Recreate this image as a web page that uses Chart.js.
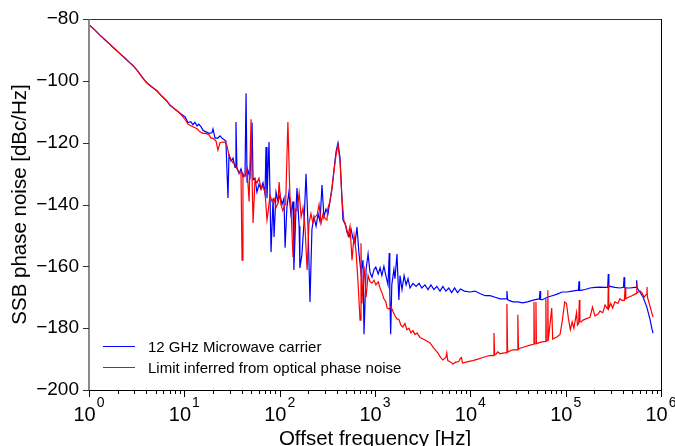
<!DOCTYPE html>
<html>
<head>
<meta charset="utf-8">
<script src="https://cdn.jsdelivr.net/npm/chart.js@4.4.1/dist/chart.umd.min.js"></script>
<style>
html, body { margin:0; padding:0; background:#fff; }
#wrap { width:675px; height:446px; }
</style>
</head>
<body>
<div id="wrap"><canvas id="c" width="675" height="446"></canvas></div>
<script>
// values
var blueFreq = [1.00,1.156,1.30,1.47,1.66,1.87,2.11,2.39,2.69,2.9,3.2,3.5,3.8,4.06,4.58,5.17,5.83,6.57,7.08,7.98,9.01,
	10.2,10.9,11.7,12.3,12.9,13.6,14.2,15.0,15.7,16.9,18.2,19.5,20.0,21.0,22.5,23.7,24.9,26.0,27.3,28.7,29.4,30.9,32.4,34.0,34.8,35.6,37.5,39.3,41.2,43.3,44.4,45.5,46.6,48.9,
	51.3,52.6,55.1,57.8,60.7,63.8,66.8,70.2,71.9,73.6,77.3,81.2,85.3,87.3,91.6,96.3,101,106,111,114,119,125,131,138,141,148,152,160,163,171,180,189,198,208,218,229,241,253,265,278,291,306,321,337,354,372,390,409,430,450,461,485,509,534,561,588,617,647,680,713,749,767,806,846,887,931,977,
	1020,1080,1130,1180,1240,1300,1370,1410,1430,1460,1500,1580,1620,1700,1780,1830,1920,2020,2120,2220,2330,2500,2700,2900,3100,3340,3600,3860,4150,4450,4810,5150,5530,5940,6370,6840,7340,7880,8660,9920,
	11200,12600,14300,16100,18200,20500,23200,23800,24200,24600,25400,27900,31500,35300,39800,44800,50600,53000,53800,54600,57000,64100,72200,81400,91800,
	103000,117000,130000,136000,138000,140000,145000,160000,180000,203000,229000,258000,276000,280000,284000,291000,328000,371000,404000,410000,416000,436000,472000,532000,547000,555000,563000,601000,650000,710000,765000,800000,825000];
var blueDb = [-81.8,-83.6,-85.2,-86.7,-88.2,-89.7,-91.2,-92.7,-94.2,-95.1,-96.6,-98.2,-99.7,-100.7,-102,-103.3,-105,-106.6,-107.9,-109.2,-110.5,
	-111.7,-113.5,-113.2,-114.2,-113.4,-114.6,-114,-114.9,-116,-116.5,-117,-116.8,-115.6,-118.5,-118.5,-117.8,-118.6,-119,-119.5,-137.9,-124,-126,-125,-128,-113.3,-128,-130,-128.5,-131,-130.5,-104,-133,-129,-131,
	-113.5,-132,-131.5,-136,-133.5,-135,-133,-136.5,-121.4,-138,-119.8,-155.4,-138,-150.5,-136,-139,-137,-140,-138,-154,-141,-136,-143,-139,-161.2,-142,-134.7,-147,-160.5,-156.3,-146,-130.1,-146,-171.5,-148,-144,-147,-143,-145.5,-133.7,-144,-141.5,-143,-139,-134.5,-128.5,-123,-120.1,-125,-138,-145,-146,-149,-150.5,-148,-151,-152.5,-147.3,-156,-162,-158,-182,-161,-156,-162,-163.5,-161,
	-160.2,-162.5,-160.5,-163,-160,-163,-166,-155.7,-168,-182,-166,-161,-164,-156,-170.9,-163,-167.5,-163,-166,-164,-167,-165.5,-166.5,-165.5,-167,-166,-167.5,-166,-167.5,-166.5,-168,-166.5,-168,-167,-168.5,-167,-168.5,-167.3,-168,-168.3,
	-168,-168.8,-169.5,-169.5,-170,-170.5,-170.5,-170.5,-168,-170.8,-171,-171.5,-171.5,-171.8,-171.5,-171,-170.6,-170.6,-168,-170.7,-170.8,-170,-169.5,-169,-168.3,
	-168.3,-168,-167.8,-167.8,-164.8,-167.8,-167.8,-167.5,-167,-166.8,-166.7,-166.8,-166.8,-162.5,-166.6,-166.5,-166.8,-167,-166.8,-163.5,-166.9,-167,-167,-166.8,-166.8,-164.5,-167,-168.3,-170,-173.2,-177,-180,-181.6];

var redFreq = [1.00,1.156,1.30,1.47,1.66,1.87,2.11,2.39,2.69,2.9,3.2,3.5,3.8,4.06,4.58,5.17,5.83,6.57,7.08,7.98,9.01,
	10.2,10.9,11.7,12.6,13.6,14.6,15.7,16.9,18.2,19.0,20.0,21.5,22.5,23.7,24.9,26.7,28.0,29.4,30.9,32.4,34.0,35.6,37.5,39.3,40.3,41.2,43.3,45.5,47.8,
	50.1,51.3,52.6,55.1,57.8,60.7,63.8,66.8,70.2,73.6,75.3,79.2,83.1,87.3,91.6,96.3,98.6,103,108,114,116,122,128,131,138,145,152,160,168,176,185,194,203,213,223,235,247,259,272,285,299,313,321,337,354,372,390,409,430,450,473,497,522,547,574,603,632,663,697,713,730,767,806,846,887,931,977,
	1020,1080,1130,1180,1240,1300,1340,1410,1470,1540,1620,1700,1780,1870,1960,2060,2160,2270,2380,2500,2620,2760,2970,3190,3430,3780,4150,4560,4900,5150,5530,5660,5800,6240,6550,7040,7560,7880,8080,8270,9450,
	10600,12000,13500,15200,16700,17400,17700,18000,18500,19400,20500,22500,23800,24200,24600,25400,27900,31000,31500,32000,33200,37300,42300,46000,46500,47000,48300,48800,49300,55000,61300,62000,62700,64300,65000,65700,71400,73100,81400,87300,91800,97700,
	102000,107000,112000,117000,122000,130000,133000,137000,139000,141000,145000,152000,163000,180000,191000,203000,218000,229000,245000,259000,271000,277000,280000,283000,297000,311000,328000,353000,371000,389000,413000,420000,427000,455000,495000,532000,550000,555000,560000,602000,630000,664000,705000,713000,721000,768000,800000,825000];
var redDb = [-81.8,-83.6,-85.2,-86.7,-88.2,-89.7,-91.2,-92.7,-94.2,-95.1,-96.6,-98.2,-99.7,-100.7,-102,-103.3,-105,-106.6,-107.9,-109.2,-110.5,
	-112.5,-114,-114.5,-115,-115.5,-116.5,-117,-117,-117.5,-118.5,-118.5,-119.5,-122.4,-120,-119.8,-119.8,-121,-124,-125.5,-126.5,-127,-128.5,-129.5,-129.8,-158,-130,-131,-128.5,-139,
	-112.4,-131,-146,-132,-133,-131.5,-135,-134,-136,-145,-142.8,-137,-139,-138,-141,-139.5,-132.7,-140,-142,-140,-138,-113.3,-137,-140,-157,-141.5,-142,-136.3,-144,-141,-148,-161.2,-146,-143,-146,-144,-143.4,-140,-146,-143,-144.5,-145,-141.1,-139,-135,-129,-124,-120.8,-126,-138,-145.7,-147,-149.9,-147,-158,-150,-155,-165,-177.4,-152.5,-172,-160,-170,-163,-165,-165.4,-164.5,
	-166,-165,-167,-168.5,-170.5,-171.5,-173.5,-173.8,-173,-174.5,-176,-177,-177.2,-179,-179.6,-178.5,-180.5,-180,-181.5,-180.8,-182,-181.6,-183,-183.5,-184,-184.8,-186.5,-188,-189.5,-190.3,-189.5,-188,-190.5,-191,-191.6,-191,-190.8,-189.7,-189.5,-191.3,-190.8,
	-190.5,-190,-189.5,-189,-188.8,-188.9,-181.6,-188.7,-188.5,-187.7,-188.3,-188,-188,-172.2,-187.8,-187.5,-187,-187,-175.7,-186.8,-186.5,-186,-185.5,-185.2,-171.5,-185.1,-185,-171.5,-185,-184.5,-184.3,-170.6,-184.2,-184,-167.7,-184,-173.5,-183.5,-182.8,-182,-178,-171.5,
	-172,-177,-180.5,-178,-180,-175,-179,-178.5,-170.9,-178,-178,-177.4,-177,-176.5,-173.2,-176,-175.5,-174.5,-175,-172.5,-173.5,-173.8,-166,-173.6,-172,-173.5,-171.5,-172,-170.5,-171,-171,-166.7,-170.5,-170,-169.5,-169,-168.8,-165.4,-168.6,-168,-168.5,-170,-169,-166.7,-170,-173,-175,-176.4];

var xDecades = [1, 10, 100, 1000, 10000, 100000, 1000000];
var xExponents = ['0', '1', '2', '3', '4', '5', '6'];
var yTicks = [-80, -100, -120, -140, -160, -180, -200];
var seriesLabels = ['12 GHz Microwave carrier', 'Limit inferred from optical phase noise'];
var seriesColors = ['#0000ff', '#ff0000'];
var xTitle = 'Offset frequency [Hz]';
var yTitle = 'SSB phase noise [dBc/Hz]';

var FONT = '"Liberation Sans", Arial, Helvetica, sans-serif';

function toPoints(fx, fy){
	var pts = [];
	for (var i = 0; i < fx.length; i++) pts.push({ x: fx[i], y: fy[i] });
	return pts;
}

// frame, tick marks, superscript labels, titles and legend
var decorPlugin = {
	id: 'decor',
	afterDraw: function(chart){
		var ctx = chart.ctx, a = chart.chartArea,
			xs = chart.scales.x, ys = chart.scales.y;
		ctx.save();

		// box
		ctx.lineWidth = 1;
		ctx.strokeStyle = '#333';
		ctx.beginPath(); ctx.moveTo(a.left, a.top + 0.5); ctx.lineTo(a.right, a.top + 0.5); ctx.stroke();
		ctx.strokeStyle = '#000';
		ctx.beginPath(); ctx.moveTo(a.right + 0.5, a.top); ctx.lineTo(a.right + 0.5, a.bottom); ctx.stroke();
		ctx.beginPath(); ctx.moveTo(a.left, a.bottom + 0.5); ctx.lineTo(a.right + 1, a.bottom + 0.5); ctx.stroke();
		ctx.strokeStyle = '#8a8a8a';
		ctx.lineWidth = 2;
		ctx.beginPath(); ctx.moveTo(a.left, a.top); ctx.lineTo(a.left, a.bottom + 1); ctx.stroke();

		// x ticks
		ctx.lineWidth = 1;
		ctx.strokeStyle = '#000';
		for (var d = 0; d < xDecades.length; d++){
			var px = Math.round(xs.getPixelForValue(xDecades[d])) + 0.5;
			ctx.beginPath(); ctx.moveTo(px, a.bottom); ctx.lineTo(px, a.bottom + 7); ctx.stroke();
			if (d < xDecades.length - 1){
				for (var m = 2; m < 10; m++){
					var mx = Math.round(xs.getPixelForValue(m * xDecades[d])) + 0.5;
					ctx.beginPath(); ctx.moveTo(mx, a.bottom); ctx.lineTo(mx, a.bottom + 4); ctx.stroke();
				}
			}
		}
		// y ticks
		ctx.strokeStyle = '#333';
		yTicks.forEach(function(v){
			var py = Math.round(ys.getPixelForValue(v)) + 0.5;
			ctx.beginPath(); ctx.moveTo(a.left - 6, py); ctx.lineTo(a.left, py); ctx.stroke();
		});

		// x labels 10^n
		ctx.fillStyle = '#000';
		ctx.textBaseline = 'alphabetic';
		ctx.textAlign = 'left';
		for (var k = 0; k < xDecades.length; k++){
			var cx = xs.getPixelForValue(xDecades[k]);
			ctx.font = '20px ' + FONT;
			var w1 = ctx.measureText('10').width;
			ctx.font = '14px ' + FONT;
			var w2 = ctx.measureText(xExponents[k]).width;
			var left = cx - (w1 + 1 + w2) / 2;
			ctx.font = '20px ' + FONT;
			ctx.fillText('10', left, 421);
			ctx.font = '14px ' + FONT;
			ctx.fillText(xExponents[k], left + w1 + 1, 407);
		}

		// axis titles
		ctx.font = '20.5px ' + FONT;
		ctx.textAlign = 'center';
		ctx.fillText(xTitle, (a.left + a.right) / 2, 445);
		ctx.save();
		ctx.translate(20, (a.top + a.bottom) / 2);
		ctx.rotate(-Math.PI / 2);
		ctx.textBaseline = 'middle';
		ctx.fillText(yTitle, 0, 0);
		ctx.restore();

		// legend
		ctx.font = '15px ' + FONT;
		ctx.textAlign = 'left';
		ctx.textBaseline = 'alphabetic';
		ctx.lineWidth = 1;
		for (var s = 0; s < seriesLabels.length; s++){
			var ly = 346 + s * 21 + 0.5;
			ctx.strokeStyle = seriesColors[s];
			ctx.beginPath(); ctx.moveTo(103, ly); ctx.lineTo(135, ly); ctx.stroke();
			ctx.fillStyle = '#000';
			ctx.fillText(seriesLabels[s], 148, ly + 5.5);
		}
		ctx.restore();
	}
};

new Chart(document.getElementById('c').getContext('2d'), {
	type: 'line',
	data: {
		datasets: [
			{ label: seriesLabels[0], data: toPoints(blueFreq, blueDb), borderColor: seriesColors[0], borderWidth: 1.2, pointRadius: 0, tension: 0, order: 2 },
			{ label: seriesLabels[1], data: toPoints(redFreq, redDb), borderColor: seriesColors[1], borderWidth: 1.2, pointRadius: 0, tension: 0, order: 1 }
		]
	},
	options: {
		responsive: false,
		animation: false,
		devicePixelRatio: 1,
		layout: { padding: { left: 0, right: 14, top: 19, bottom: 0 } },
		plugins: { legend: { display: false }, tooltip: { enabled: false } },
		scales: {
			x: {
				type: 'logarithmic', min: 1, max: 1000000,
				ticks: { display: false },
				grid: { display: false, drawTicks: false },
				border: { display: false },
				afterFit: function(s){ s.height = 56; }
			},
			y: {
				min: -200, max: -80,
				ticks: {
					stepSize: 20, padding: 4, color: '#000',
					font: { family: FONT, size: 19 },
					callback: function(v){ return (v < 0 ? '\u2212' : '') + Math.abs(v); }
				},
				grid: { display: false, drawTicks: true, tickLength: 6 },
				border: { display: false },
				afterFit: function(s){ s.width = 89; }
			}
		}
	},
	plugins: [decorPlugin]
});
</script>
</body>
</html>
